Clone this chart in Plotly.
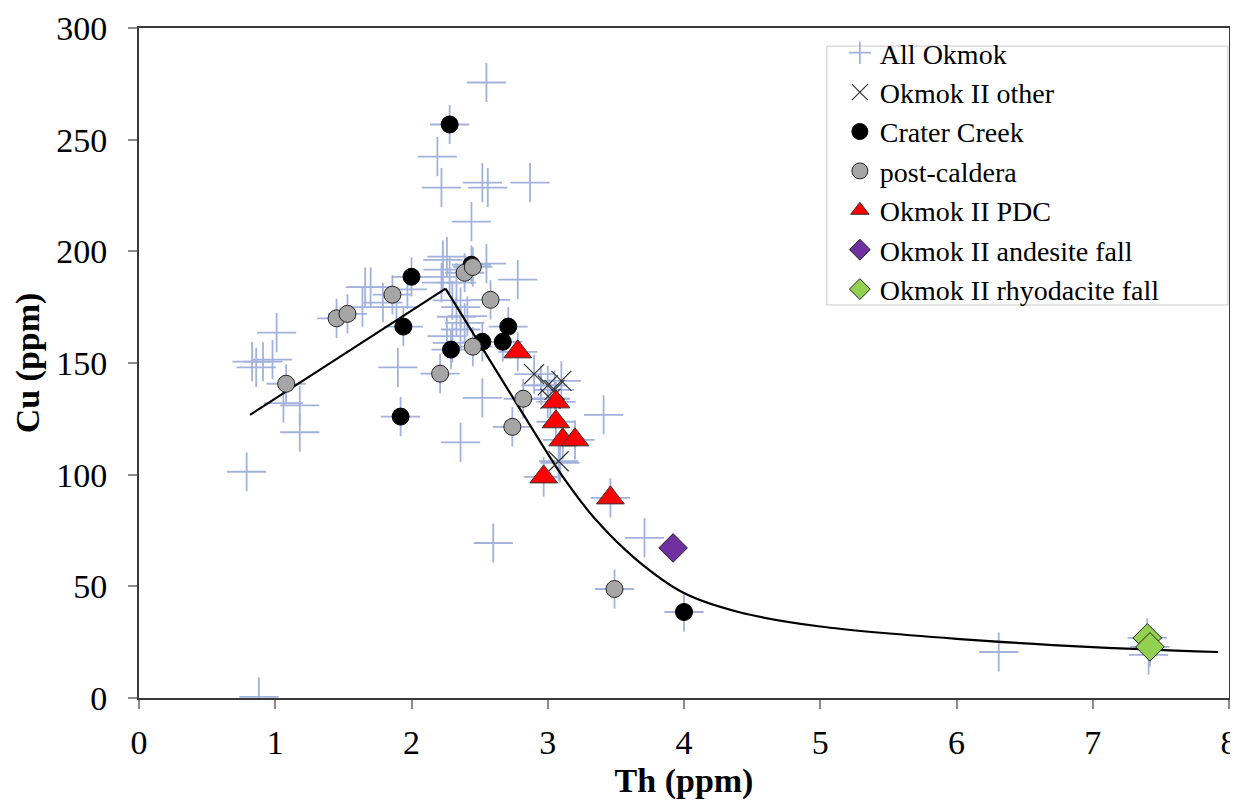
import plotly.graph_objects as go

# ---- data (Th ppm, Cu ppm) ----
extra_th = [2.55, 2.19, 2.22, 2.52, 2.56, 2.87, 2.44, 2.78, 2.55, 2.23, 2.26, 2.23, 2.28, 2.22, 2.33,
            1.97, 1.89, 2.30, 2.36, 2.33, 2.39, 2.36, 2.26, 2.30, 2.41, 1.70, 1.66, 1.64, 1.01, 0.83,
            0.86, 0.91, 0.98, 1.18, 1.18, 1.06, 0.79, 1.90, 2.36, 2.52, 3.41, 3.09, 2.60, 3.71, 6.31,
            7.41, 0.88, 1.79, 2.95, 3.00]
extra_cu = [275.6, 242.4, 228.5, 230.8, 228.5, 230.8, 213.3, 187.3, 194.5, 196.2, 197.6, 191.8, 188.6, 186.0, 186.0,
            183.0, 175.0, 178.0, 175.0, 170.7, 168.0, 165.0, 162.0, 159.0, 171.0, 184.0, 184.0, 175.0, 163.6, 150.6,
            148.0, 150.6, 151.5, 131.0, 119.0, 132.0, 101.3, 148.0, 114.5, 134.4, 126.8, 105.3, 69.4, 71.7, 20.6,
            19.3, 0.5, 177.0, 140.0, 134.0]

other_th = [2.90, 3.00, 3.05, 3.10, 3.02, 3.08]
other_cu = [145.0, 140.0, 138.0, 142.0, 134.0, 106.0]

crater_th = [2.28, 2.00, 2.44, 1.94, 1.92, 2.29, 2.52, 2.71, 2.67, 4.00]
crater_cu = [256.8, 188.6, 194.0, 166.3, 126.0, 156.0, 159.5, 166.3, 159.5, 38.5]

post_th = [1.45, 1.53, 1.86, 1.08, 2.21, 2.39, 2.45, 2.58, 2.45, 2.82, 2.74, 3.49]
post_cu = [170.0, 172.0, 180.6, 140.7, 145.2, 190.4, 193.0, 178.3, 157.3, 134.0, 121.4, 48.8]

pdc_th = [2.78, 3.06, 3.06, 3.11, 3.20, 2.97, 3.46]
pdc_cu = [155.0, 132.6, 123.7, 115.6, 115.6, 99.0, 89.6]

andesite_th = [3.92]
andesite_cu = [67.2]

rhyo_th = [7.40, 7.42]
rhyo_cu = [26.9, 22.9]

# model curve: rising straight branch, then a smooth falling branch
rise_th = [0.815, 2.25]
rise_cu = [126.8, 183.3]
fall_th = [2.25, 2.80, 3.10, 3.35, 3.65, 4.00, 4.40, 5.00, 6.00, 7.00, 7.92]
fall_cu = [183.3, 129.0, 100.0, 80.0, 62.0, 47.0, 38.5, 32.0, 26.5, 22.8, 20.6]

x_ticks = [0, 1, 2, 3, 4, 5, 6, 7, 8]
y_ticks = [0, 50, 100, 150, 200, 250, 300]

# All Okmok includes every sample
all_th = extra_th + other_th + crater_th + post_th + pdc_th + rhyo_th
all_cu = extra_cu + other_cu + crater_cu + post_cu + pdc_cu + rhyo_cu

FONT = "Liberation Serif"
fig = go.Figure()

fig.add_trace(go.Scatter(x=all_th, y=all_cu, mode="markers", name="All Okmok",
                         marker=dict(symbol="cross-thin", size=28, color="#a2b2dc",
                                     line=dict(color="#a2b2dc", width=1.8))))
fig.add_trace(go.Scatter(x=rise_th, y=rise_cu, mode="lines", showlegend=False,
                         line=dict(color="black", width=2.2), hoverinfo="skip"))
fig.add_trace(go.Scatter(x=fall_th, y=fall_cu, mode="lines", showlegend=False,
                         line=dict(color="black", width=2.2, shape="spline", smoothing=0.8),
                         hoverinfo="skip"))
fig.add_trace(go.Scatter(x=other_th, y=other_cu, mode="markers", name="Okmok II other",
                         marker=dict(symbol="x-thin", size=20, color="#333333",
                                     line=dict(color="#333333", width=1.2))))
fig.add_trace(go.Scatter(x=crater_th, y=crater_cu, mode="markers", name="Crater Creek",
                         marker=dict(symbol="circle", size=17, color="black",
                                     line=dict(color="black", width=1))))
fig.add_trace(go.Scatter(x=post_th, y=post_cu, mode="markers", name="post-caldera",
                         marker=dict(symbol="circle", size=17, color="#a6a6a6",
                                     line=dict(color="#222222", width=1))))
fig.add_trace(go.Scatter(x=pdc_th, y=pdc_cu, mode="markers", name="Okmok II PDC",
                         marker=dict(symbol="triangle-up", size=24, color="#ff0000",
                                     line=dict(color="#333333", width=1))))
fig.add_trace(go.Scatter(x=andesite_th, y=andesite_cu, mode="markers", name="Okmok II andesite fall",
                         marker=dict(symbol="diamond", size=22, color="#7030a0",
                                     line=dict(color="#222222", width=1))))
fig.add_trace(go.Scatter(x=rhyo_th, y=rhyo_cu, mode="markers", name="Okmok II rhyodacite fall",
                         marker=dict(symbol="diamond", size=22, color="#92d050",
                                     line=dict(color="#222222", width=1))))

axis_common = dict(showline=True, linecolor="#3a3a3a", linewidth=2, mirror=True,
                   showgrid=False, zeroline=False, ticks="outside", ticklen=9,
                   tickcolor="#8c8c8c", tickwidth=1.5, automargin=False,
                   tickfont=dict(family=FONT, size=34, color="black"))

# page has an 8px body margin, so the figure is 8px smaller than the window
fig.update_layout(
    width=1230, height=798,
    margin=dict(l=131, r=9, t=20, b=108),
    paper_bgcolor="white", plot_bgcolor="white",
    font=dict(family=FONT, color="black"),
    xaxis=dict(range=[0, 8], tickvals=x_ticks, ticklabelstandoff=4,
               title=dict(text="<b>Th (ppm)</b>", font=dict(family=FONT, size=34), standoff=8),
               **axis_common),
    yaxis=dict(range=[0, 300], tickvals=y_ticks, ticklabelstandoff=14,
               title=dict(text="<b>Cu (ppm)</b>", font=dict(family=FONT, size=34), standoff=6),
               **axis_common),
    legend=dict(x=0.643, xanchor="left", y=1.0, yanchor="top",
                bgcolor="rgba(0,0,0,0)", borderwidth=0,
                font=dict(family=FONT, size=28, color="black"),
                itemwidth=30, tracegroupgap=0),
    shapes=[dict(type="rect", xref="paper", yref="paper",
                 x0=0.631, x1=0.999, y0=0.5866, y1=0.973,
                 line=dict(color="#c8c8c8", width=1), fillcolor="white", layer="above")],
    showlegend=True,
)

fig.write_html("out.html")
